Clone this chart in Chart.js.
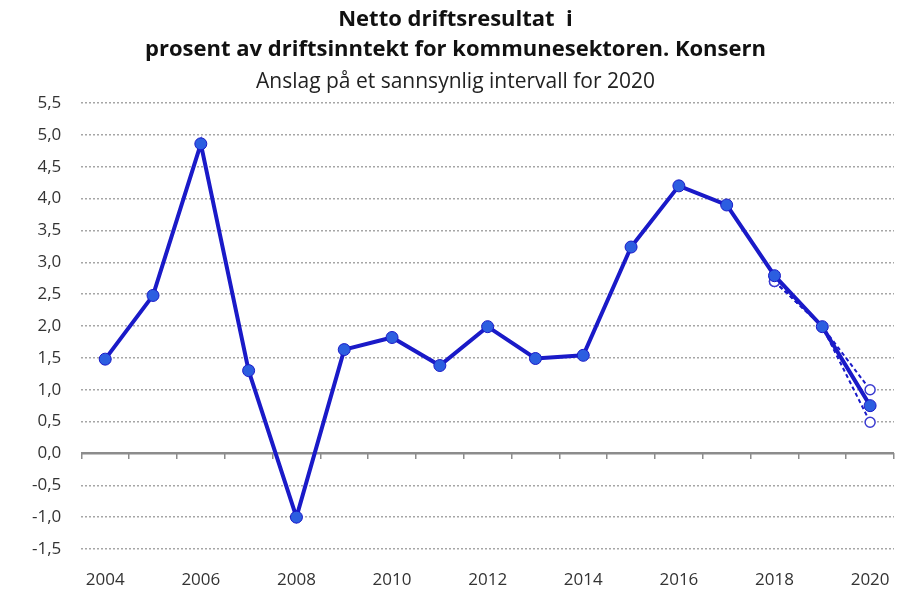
<!DOCTYPE html>
<html>
<head>
<meta charset="utf-8">
<script src="https://cdn.jsdelivr.net/npm/chart.js@4"></script>
<style>
  html, body { margin: 0; padding: 0; background: #fff; }
  #wrap { width: 901px; height: 592px; }
</style>
</head>
<body>
<div id="wrap"><canvas id="chart" width="901" height="592"></canvas></div>
<script>
const years = ['2004','2005','2006','2007','2008','2009','2010','2011','2012','2013','2014','2015','2016','2017','2018','2019','2020'];
const result = [1.48, 2.48, 4.86, 1.30, -1.00, 1.63, 1.82, 1.38, 1.99, 1.49, 1.54, 3.24, 4.20, 3.90, 2.79, 1.99, 0.75];
const upperEst = [null, null, null, null, null, null, null, null, null, null, null, null, null, null, 2.70, 1.99, 1.00];
const lowerEst = [null, null, null, null, null, null, null, null, null, null, null, null, null, null, 2.70, 1.99, 0.49];
const yTicks = [-1.5, -1.0, -0.5, 0.0, 0.5, 1.0, 1.5, 2.0, 2.5, 3.0, 3.5, 4.0, 4.5, 5.0, 5.5];

const lineBlue = '#1a1ac8';
const dotBlue = '#2c5ee0';
const fontFam = '"Open Sans", "DejaVu Sans", sans-serif';

function estimateSet(label, values) {
  return {
    label: label,
    data: values,
    borderColor: lineBlue,
    borderWidth: 2,
    borderDash: [4, 3],
    pointRadius: ctx => (ctx.dataIndex === 15 ? 0 : 5),
    pointBackgroundColor: '#ffffff',
    pointBorderColor: '#3a3ad0',
    pointBorderWidth: 1.5,
    spanGaps: false,
    order: 2
  };
}

new Chart(document.getElementById('chart'), {
  type: 'line',
  data: {
    labels: years,
    datasets: [
      {
        label: 'Netto driftsresultat',
        data: result,
        borderColor: lineBlue,
        borderWidth: 4,
        pointRadius: 6,
        pointBackgroundColor: dotBlue,
        pointBorderColor: lineBlue,
        pointBorderWidth: 1,
        tension: 0,
        order: 1
      },
      estimateSet('Øvre anslag', upperEst),
      estimateSet('Nedre anslag', lowerEst)
    ]
  },
  options: {
    responsive: false,
    animation: false,
    layout: { padding: { left: 12, right: 2, top: 0, bottom: 0 } },
    plugins: {
      legend: { display: false },
      tooltip: { enabled: false },
      title: {
        display: true,
        text: ['Netto driftsresultat  i', 'prosent av driftsinntekt for kommunesektoren. Konsern'],
        color: '#111',
        font: { family: fontFam, size: 22, weight: 'bold', lineHeight: 1.36 },
        padding: { top: 5, bottom: 5 }
      },
      subtitle: {
        display: true,
        text: 'Anslag på et sannsynlig intervall for 2020',
        color: '#222',
        font: { family: fontFam, size: 21, lineHeight: 1.2 },
        padding: { top: 0, bottom: 8 }
      }
    },
    scales: {
      x: {
        offset: true,
        grid: { display: false, drawTicks: false },
        border: { display: false },
        afterFit: s => { s.paddingLeft = 0; s.paddingRight = 0; s.height = 43; },
        ticks: {
          autoSkip: false,
          maxRotation: 0,
          color: '#333',
          padding: 21,
          font: { family: fontFam, size: 17 },
          callback: function (v, i) { return i % 2 === 0 ? years[i] : ''; }
        }
      },
      x2: {
        type: 'category',
        labels: years,
        position: { y: 0 },
        offset: true,
        afterFit: s => { s.paddingLeft = 0; s.paddingRight = 0; },
        grid: { offset: true, drawOnChartArea: false, drawTicks: true, tickLength: 6, color: '#8c8c8c', lineWidth: 1.5 },
        border: { display: false },
        ticks: { display: false, autoSkip: false }
      },
      y: {
        min: -1.5,
        max: 5.5,
        afterBuildTicks: axis => { axis.ticks = yTicks.map(v => ({ value: v })); },
        grid: {
          drawTicks: false,
          color: ctx => (ctx.tick && ctx.tick.value === 0 ? '#8c8c8c' : '#a6a6a6'),
          lineWidth: ctx => (ctx.tick && ctx.tick.value === 0 ? 2.5 : 1.5)
        },
        border: {
          display: false,
          dash: ctx => (ctx.tick && ctx.tick.value === 0 ? [] : [2, 2])
        },
        ticks: {
          color: '#333',
          padding: 20,
          font: { family: fontFam, size: 17 },
          callback: v => v.toFixed(1).replace('.', ',')
        }
      }
    }
  }
});
</script>
</body>
</html>
